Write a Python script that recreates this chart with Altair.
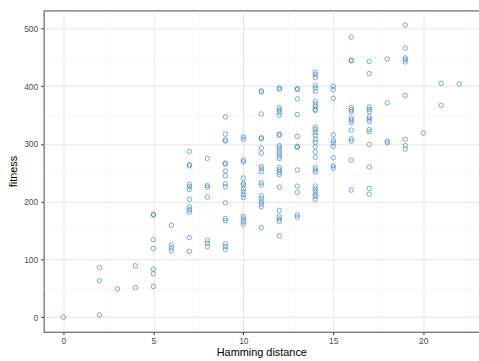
import altair as alt
import pandas as pd

# fitness values, grouped by Hamming distance
d0 = [0]
d2 = [86, 63, 4]
d3 = [49]
d4 = [89, 51]
d5 = [178, 177, 134, 119, 83, 75, 53]
d6 = [159, 125, 120, 115]
d7 = [287, 264, 262, 230, 226, 221, 204, 191, 186, 182, 138, 114]
d8 = [275, 228, 225, 208, 133, 128, 122]
d9 = [347, 317, 307, 305, 267, 265, 253, 245, 231, 226, 198, 171, 167, 127, 122, 117]
d10 = [312, 308, 272, 269, 241, 232, 229, 222, 217, 212, 207, 174, 170, 165, 161]
d11 = [392, 390, 352, 311, 309, 293, 284, 261, 257, 252, 233, 229, 210, 205, 200, 196, 191, 155]
d12 = [397, 395, 363, 359, 355, 350, 317, 315, 297, 293, 288, 284, 279, 275, 259, 255,
       251, 247, 225, 185, 174, 170, 166, 141]
d13 = [396, 394, 378, 351, 313, 296, 294, 255, 227, 216, 177, 173]
d14 = [424, 420, 415, 401, 397, 391, 374, 369, 365, 360, 358, 329, 325, 320, 315, 308,
       303, 295, 286, 277, 259, 255, 251, 227, 222, 218, 213, 209, 204]
d15 = [400, 394, 379, 316, 306, 302, 296, 276, 262, 258]
d16 = [485, 445, 444, 363, 359, 356, 345, 341, 337, 324, 309, 305, 272, 220]
d17 = [443, 422, 364, 360, 356, 347, 343, 339, 325, 321, 299, 260, 223, 213]
d18 = [447, 371, 305, 302]
d19 = [506, 466, 449, 446, 442, 384, 308, 297, 291]
d20 = [319]
d21 = [405, 367]
d22 = [404]

columns = {0: d0, 2: d2, 3: d3, 4: d4, 5: d5, 6: d6, 7: d7, 8: d8, 9: d9, 10: d10,
           11: d11, 12: d12, 13: d13, 14: d14, 15: d15, 16: d16, 17: d17, 18: d18,
           19: d19, 20: d20, 21: d21, 22: d22}

x_ticks = [0, 5, 10, 15, 20]
x_minor = [2.5, 7.5, 12.5, 17.5, 22.5]
y_ticks = [0, 100, 200, 300, 400, 500]
y_minor = [50, 150, 250, 350, 450]

rows = []
for h, vals in columns.items():
    for v in vals:
        rows.append({"Hamming distance": h, "fitness": v})
df = pd.DataFrame(rows)

FONT = "Liberation Sans"
xscale = alt.Scale(domain=[-1.1, 23.1], nice=False, zero=False)
yscale = alt.Scale(domain=[-25.3, 531.3], nice=False, zero=False)

minor = alt.Chart(df).mark_point(opacity=0).encode(
    x=alt.X("Hamming distance:Q", scale=xscale,
            axis=alt.Axis(values=x_minor, labels=False, ticks=False, domain=False,
                          title=None, grid=True, gridColor="#f2f2f2", gridWidth=0.6,
                          orient="bottom")),
    y=alt.Y("fitness:Q", scale=yscale,
            axis=alt.Axis(values=y_minor, labels=False, ticks=False, domain=False,
                          title=None, grid=True, gridColor="#f2f2f2", gridWidth=0.6,
                          orient="left")),
)

common = dict(domain=False, grid=True, gridColor="#e6e6e6", gridWidth=1,
              tickColor="#333333", tickSize=3, tickWidth=1,
              labelFont=FONT, labelFontSize=8.5, labelColor="#4d4d4d",
              titleFont=FONT, titleFontSize=11, titleColor="#000000",
              titleFontWeight="normal")

points = alt.Chart(df).mark_point(
    shape="circle", filled=False, size=20, strokeWidth=0.9, color="#2b79bb"
).encode(
    x=alt.X("Hamming distance:Q", scale=xscale,
            axis=alt.Axis(values=x_ticks, title="Hamming distance", orient="bottom",
                          labelPadding=2, titlePadding=1, **common)),
    y=alt.Y("fitness:Q", scale=yscale,
            axis=alt.Axis(values=y_ticks, title="fitness", orient="left",
                          labelPadding=3, titlePadding=5, **common)),
)

chart = alt.layer(minor, points).resolve_axis(x="independent", y="independent").properties(
    width=439, height=324,
    autosize=alt.AutoSizeParams(type="none"),
    padding={"left": 44, "top": 9, "right": 0, "bottom": 28},
    background="white",
).configure_view(stroke="#444444", strokeWidth=1)

chart.save("out.html", embed_options={"renderer": "svg", "actions": False})
